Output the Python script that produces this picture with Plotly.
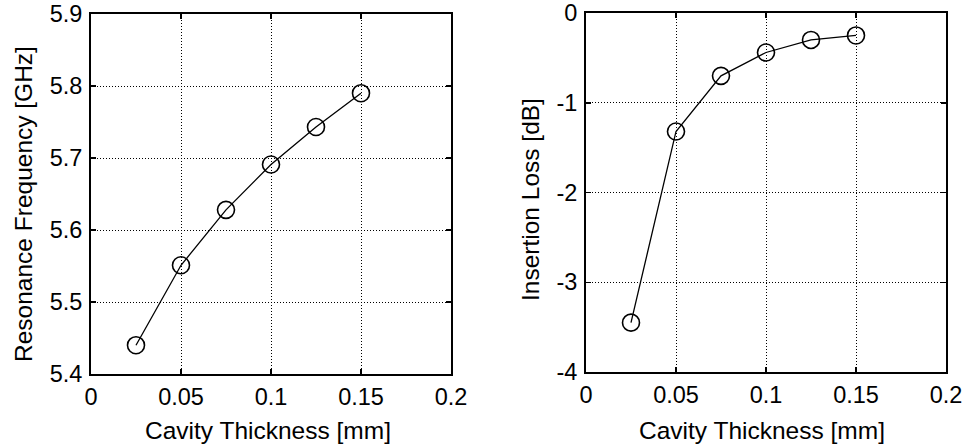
import plotly.graph_objects as go

W, H = 969, 447

# ---- data ----
thickness_mm = [0.025, 0.05, 0.075, 0.1, 0.125, 0.15]
resonance_ghz = [5.440, 5.551, 5.628, 5.691, 5.743, 5.790]
insertion_loss_db = [-3.45, -1.32, -0.70, -0.44, -0.30, -0.25]

x_ticks = [0, 0.05, 0.1, 0.15, 0.2]
x_ticktext = ["0", "0.05", "0.1", "0.15", "0.2"]
f_ticks = [5.4, 5.5, 5.6, 5.7, 5.8, 5.9]
f_ticktext = ["5.4", "5.5", "5.6", "5.7", "5.8", "5.9"]
il_ticks = [-4, -3, -2, -1, 0]
il_ticktext = ["-4", "-3", "-2", "-1", "0"]

x_title = "Cavity Thickness [mm]"
f_title = "Resonance Frequency [GHz]"
il_title = "Insertion Loss [dB]"

FONT = "Liberation Sans, Arial, Helvetica, sans-serif"

def px_x(p):
    return p / W

def px_y(p):
    return 1 - p / H

fig = go.Figure()

marker = dict(symbol="circle-open", size=17, color="black", line=dict(width=1.6, color="black"))
fig.add_trace(go.Scatter(x=thickness_mm, y=resonance_ghz, mode="lines+markers",
                         line=dict(color="black", width=1.3), marker=marker,
                         xaxis="x", yaxis="y", showlegend=False, hoverinfo="skip"))
fig.add_trace(go.Scatter(x=thickness_mm, y=insertion_loss_db, mode="lines+markers",
                         line=dict(color="black", width=1.3), marker=marker,
                         xaxis="x2", yaxis="y2", showlegend=False, hoverinfo="skip"))

axis_common = dict(
    showline=True, linecolor="black", linewidth=2, mirror="ticks",
    ticks="inside", ticklen=5, tickwidth=1.5, tickcolor="black",
    showgrid=True, gridcolor="black", gridwidth=1, griddash="1px,2px",
    zeroline=False, tickfont=dict(family=FONT, size=23.5, color="black"),
    fixedrange=True, automargin=False,
)

TF = dict(family=FONT, size=24.5, color="black")

fig.update_layout(
    width=W, height=H,
    margin=dict(l=0, r=0, t=0, b=0),
    paper_bgcolor="white", plot_bgcolor="white",
    xaxis=dict(axis_common, domain=[px_x(91), px_x(451)], range=[0, 0.2],
               tickvals=x_ticks, ticktext=x_ticktext, anchor="y", ticklabelstandoff=1),
    yaxis=dict(axis_common, domain=[px_y(374), px_y(14)], range=[5.4, 5.9],
               tickvals=f_ticks, ticktext=f_ticktext, anchor="x", ticklabelstandoff=2),
    xaxis2=dict(axis_common, domain=[px_x(586), px_x(946)], range=[0, 0.2],
                tickvals=x_ticks, ticktext=x_ticktext, anchor="y2", ticklabelstandoff=1),
    yaxis2=dict(axis_common, domain=[px_y(372), px_y(13)], range=[-4, 0],
                tickvals=il_ticks, ticktext=il_ticktext, anchor="x2", ticklabelstandoff=2),
    annotations=[
        dict(text=x_title, x=px_x(268), y=px_y(430), xref="paper", yref="paper",
             showarrow=False, font=TF, xanchor="center", yanchor="middle"),
        dict(text=x_title, x=px_x(762), y=px_y(430), xref="paper", yref="paper",
             showarrow=False, font=TF, xanchor="center", yanchor="middle"),
        dict(text=f_title, x=px_x(23), y=px_y(204), xref="paper", yref="paper",
             showarrow=False, textangle=-90, font=TF, xanchor="center", yanchor="middle"),
        dict(text=il_title, x=px_x(530), y=px_y(200), xref="paper", yref="paper",
             showarrow=False, textangle=-90, font=TF, xanchor="center", yanchor="middle"),
    ],
)

fig.write_html("out.html", config={"displayModeBar": False, "staticPlot": True},
               post_script="document.body.style.margin='0';document.body.style.overflow='hidden';")
